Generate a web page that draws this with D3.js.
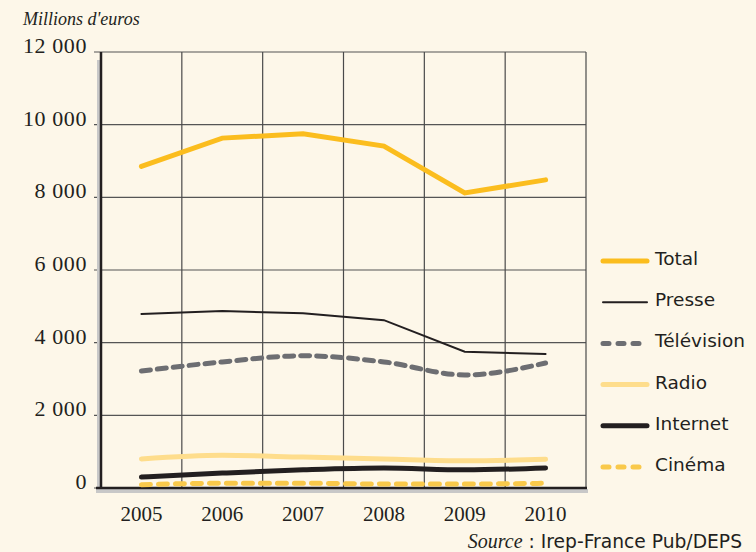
<!DOCTYPE html>
<html>
<head>
<meta charset="utf-8">
<script src="https://cdn.jsdelivr.net/npm/d3@7"></script>
<style>
  body { margin: 0; background: #fdf7e9; }
  svg { display: block; }
</style>
</head>
<body>
<svg id="chart" width="756" height="552"></svg>
<script>
const annees = ['2005', '2006', '2007', '2008', '2009', '2010'];
const total = [8850, 9630, 9750, 9410, 8120, 8480];
const presse = [4790, 4870, 4810, 4620, 3750, 3690];
const television = [3220, 3470, 3640, 3470, 3110, 3440];
const radio = [800, 900, 850, 800, 750, 790];
const internet = [300, 410, 500, 550, 500, 550];
const cinema = [90, 130, 130, 110, 110, 130];
const yTicks = [0, 2000, 4000, 6000, 8000, 10000, 12000];

const series = [
  {nom: 'Total', val: total, color: '#fbbd1e', w: 5, dash: null, curve: d3.curveLinear},
  {nom: 'Presse', val: presse, color: '#231f20', w: 2, dash: null, curve: d3.curveLinear},
  {nom: 'Télévision', val: television, color: '#6d6e72', w: 5, dash: '9,7', curve: d3.curveMonotoneX},
  {nom: 'Radio', val: radio, color: '#fedd8c', w: 5, dash: null, curve: d3.curveMonotoneX},
  {nom: 'Internet', val: internet, color: '#231f20', w: 5, dash: null, curve: d3.curveMonotoneX},
  {nom: 'Cinéma', val: cinema, color: '#f9c94b', w: 5, dash: '9,8', curve: d3.curveMonotoneX}
];

const svg = d3.select('#chart');
svg.append('rect').attr('width', 756).attr('height', 552).attr('fill', '#fdf7e9');

const gauche = 101, droite = 586, haut = 52, bas = 488;

const x = d3.scaleBand().domain(annees).range([gauche, droite]);
const y = d3.scaleLinear().domain([0, 12000]).range([bas, haut]);

// grille horizontale
svg.append('g').selectAll('line').data(yTicks).join('line')
  .attr('x1', 94).attr('x2', droite)
  .attr('y1', d => y(d)).attr('y2', d => y(d))
  .attr('stroke', '#555').attr('stroke-width', 1.2);

// grille verticale
const bords = annees.slice(1).map(a => x(a)).concat([droite]);
svg.append('g').selectAll('line').data(bords).join('line')
  .attr('x1', d => d).attr('x2', d => d)
  .attr('y1', haut).attr('y2', bas)
  .attr('stroke', '#4a4a4a').attr('stroke-width', 1.2);

// ombres des axes
svg.append('rect').attr('x', gauche - 4).attr('y', haut + 8).attr('width', 3).attr('height', bas - haut - 8).attr('fill', '#c8c8c8');
svg.append('rect').attr('x', 96).attr('y', bas + 1).attr('width', droite - 96 + 2).attr('height', 4).attr('fill', '#c8c8c8');

// axes
svg.append('line').attr('x1', gauche).attr('x2', gauche).attr('y1', haut).attr('y2', bas + 1)
  .attr('stroke', '#231f20').attr('stroke-width', 2.5);
svg.append('line').attr('x1', 96).attr('x2', droite + 1).attr('y1', bas).attr('y2', bas)
  .attr('stroke', '#231f20').attr('stroke-width', 2.5);

// libellés y
svg.append('g').selectAll('text').data(yTicks).join('text')
  .attr('x', 87).attr('y', d => y(d) + 1)
  .attr('text-anchor', 'end')
  .attr('font-family', 'Liberation Serif, DejaVu Serif, serif')
  .attr('font-size', 22).attr('letter-spacing', 0.6).attr('fill', '#231f20')
  .text(d => d3.format(',')(d).replace(/,/g, ' '));

svg.append('text').attr('x', 23).attr('y', 25)
  .attr('font-family', 'Liberation Serif, DejaVu Serif, serif')
  .attr('font-style', 'italic').attr('font-size', 18).attr('fill', '#231f20')
  .text("Millions d'euros");

// libellés x
svg.append('g').selectAll('text').data(annees).join('text')
  .attr('x', d => x(d) + x.bandwidth() / 2).attr('y', 521)
  .attr('text-anchor', 'middle')
  .attr('font-family', 'Liberation Serif, DejaVu Serif, serif')
  .attr('font-size', 21).attr('fill', '#231f20')
  .text(d => d);

// courbes (ordre de dessin : du bas vers le haut)
const ordre = ['Radio', 'Internet', 'Cinéma', 'Télévision', 'Presse', 'Total'];
ordre.forEach(nom => {
  const s = series.find(d => d.nom === nom);
  svg.append('path')
    .datum(s.val)
    .attr('fill', 'none')
    .attr('stroke', s.color)
    .attr('stroke-width', s.w)
    .attr('stroke-linecap', 'round')
    .attr('stroke-dasharray', s.dash)
    .attr('d', d3.line()
      .x((d, i) => x(annees[i]) + x.bandwidth() / 2)
      .y(d => y(d))
      .curve(s.curve));
});

// légende
const leg = svg.append('g');
series.forEach((s, i) => {
  const ly = 258 + i * 41.2;
  leg.append('line')
    .attr('x1', 603).attr('x2', 647).attr('y1', ly + 3).attr('y2', ly + 3)
    .attr('stroke', s.color).attr('stroke-width', s.w)
    .attr('stroke-linecap', 'round')
    .attr('stroke-dasharray', s.dash ? '6,9' : null);
  leg.append('text')
    .attr('x', 655).attr('y', ly + 7)
    .attr('font-family', 'DejaVu Sans, sans-serif')
    .attr('font-size', 18.5).attr('fill', '#231f20')
    .text(s.nom);
});

// source
const src = svg.append('text').attr('x', 742).attr('y', 548).attr('text-anchor', 'end')
  .attr('font-size', 18.7).attr('fill', '#231f20');
src.append('tspan').attr('font-family', 'Liberation Serif, serif').attr('font-style', 'italic').attr('font-size', 20).text('Source');
src.append('tspan').attr('font-family', 'DejaVu Sans, sans-serif').text(' : Irep-France Pub/DEPS');
</script>
</body>
</html>
